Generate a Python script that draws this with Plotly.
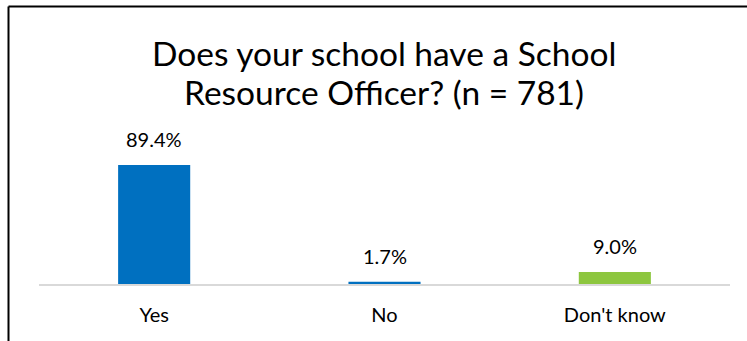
import plotly.graph_objects as go

# Survey responses
categories = ["Yes", "No", "Don't know"]
percentages = [89.4, 1.7, 9.0]
bar_colors = ["#0070C0", "#0070C0", "#8DC63F"]
title_lines = ["Does your school have a School", "Resource Officer? (n = 781)"]

W, H = 747, 341
FONT = "Lato"

fig = go.Figure(
    go.Bar(
        x=categories,
        y=percentages,
        marker=dict(color=bar_colors, line=dict(width=0)),
        width=0.313,
        hoverinfo="skip",
        cliponaxis=False,
    )
)

# value labels above each bar
for cat, val in zip(categories, percentages):
    fig.add_annotation(
        x=cat, y=val, xref="x", yref="y",
        text=f"{val:.1f}%", showarrow=False,
        yanchor="bottom", yshift=12,
        font=dict(family=FONT, size=20, color="#000000"),
    )

# two-line title centred over the plot area
for i, line in enumerate(title_lines):
    fig.add_annotation(
        x=(39 + 730) / 2 / W, y=1 - (31 + 39 * i) / H,
        xref="paper", yref="paper",
        text=line, showarrow=False, xanchor="center", yanchor="top",
        font=dict(family=FONT, size=33.5, color="#000000"),
    )

# frame lines (top and left)
fig.add_shape(type="line", xref="paper", yref="paper",
              x0=8.5 / W, x1=1.0, y0=1 - 6.5 / H, y1=1 - 6.5 / H,
              line=dict(color="#000000", width=2))
fig.add_shape(type="line", xref="paper", yref="paper",
              x0=8.5 / W, x1=8.5 / W, y0=0, y1=1 - 6.5 / H,
              line=dict(color="#000000", width=2))

fig.update_layout(
    width=W, height=H,
    margin=dict(l=0, r=0, t=0, b=0),
    paper_bgcolor="white", plot_bgcolor="white",
    showlegend=False,
    font=dict(family=FONT, color="#000000"),
    xaxis=dict(
        domain=[39 / W, 730 / W],
        showline=True, linecolor="#D9D9D9", linewidth=2,
        showgrid=False, ticks="", zeroline=False,
        tickfont=dict(family=FONT, size=20, color="#000000"),
        ticklabelstandoff=12,
        fixedrange=True,
    ),
    yaxis=dict(
        domain=[57 / H, 190 / H],
        range=[0, 100],
        visible=False, showgrid=False, zeroline=False,
        fixedrange=True,
    ),
)

fig.write_html("out.html")
